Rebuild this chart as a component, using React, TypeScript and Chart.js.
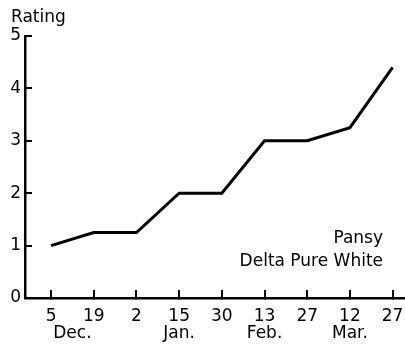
import React, { useEffect, useRef } from "react";
import { Chart, registerables } from "chart.js";

Chart.register(...registerables);

const dayLabels = ["5", "19", "2", "15", "30", "13", "27", "12", "27"];
const ratings = [1, 1.25, 1.25, 2, 2, 3, 3, 3.25, 4.4];
const monthLabels = ["Dec.", "Jan.", "Feb.", "Mar."];
const monthAt = [0.5, 3, 5, 7];
const yTicks = [0, 1, 2, 3, 4, 5];
const axisTitle = "Rating";
const noteLines = ["Pansy", "Delta Pure White"];

const FONT = "'DejaVu Sans', sans-serif";
const X_MIN = -0.61;
const X_MAX = 8.29;

const textPlugin = {
  id: "texts",
  afterDraw(chart: any) {
    const { ctx, chartArea } = chart;
    ctx.save();
    ctx.fillStyle = "#000";
    ctx.font = `17px ${FONT}`;
    ctx.textBaseline = "alphabetic";
    ctx.textAlign = "left";
    ctx.fillText(axisTitle, 11, 22);
    ctx.textAlign = "right";
    ctx.fillText(noteLines[0], chartArea.right - 22, 243);
    ctx.fillText(noteLines[1], chartArea.right - 22, 266);
    ctx.restore();
  },
};

const noPad = (axis: any) => {
  axis.paddingLeft = 0;
  axis.paddingRight = 0;
  axis.paddingTop = 0;
  axis.paddingBottom = 0;
};

export default function App() {
  const ref = useRef<HTMLCanvasElement>(null);

  useEffect(() => {
    if (!ref.current) return;
    const chart = new Chart(ref.current, {
      type: "line",
      data: {
        datasets: [
          {
            data: ratings.map((v, i) => ({ x: i, y: v })),
            borderColor: "#000",
            borderWidth: 3,
            pointRadius: 0,
            tension: 0,
            fill: false,
          },
        ],
      },
      options: {
        animation: false,
        responsive: false,
        devicePixelRatio: 1,
        layout: { padding: { top: 36, left: 0, right: 0, bottom: 0 } },
        plugins: { legend: { display: false }, tooltip: { enabled: false }, title: { display: false } },
        scales: {
          x: {
            type: "linear",
            position: "bottom",
            min: X_MIN,
            max: X_MAX,
            afterBuildTicks: (axis: any) => {
              axis.ticks = dayLabels.map((_, i) => ({ value: i }));
            },
            afterFit: (axis: any) => {
              axis.height = 27;
              noPad(axis);
            },
            grid: {
              drawOnChartArea: false,
              drawTicks: true,
              tickLength: -8,
              color: "#000",
              lineWidth: 2,
            },
            border: { display: true, color: "#000", width: 2.5 },
            ticks: {
              autoSkip: false,
              maxRotation: 0,
              minRotation: 0,
              padding: 18.5,
              color: "#000",
              font: { family: FONT, size: 17, lineHeight: 1 },
              callback: (v: any) => dayLabels[v] ?? "",
            },
          },
          xm: {
            type: "linear",
            position: "bottom",
            min: X_MIN,
            max: X_MAX,
            afterBuildTicks: (axis: any) => {
              axis.ticks = monthAt.map((v) => ({ value: v }));
            },
            afterFit: (axis: any) => {
              axis.height = 20;
              noPad(axis);
            },
            grid: { display: false, drawTicks: false },
            border: { display: false },
            ticks: {
              autoSkip: false,
              maxRotation: 0,
              minRotation: 0,
              padding: 0.5,
              color: "#000",
              font: { family: FONT, size: 17, lineHeight: 1 },
              callback: (_v: any, i: number) => monthLabels[i] ?? "",
            },
          },
          y: {
            type: "linear",
            position: "left",
            min: 0,
            max: 5,
            afterBuildTicks: (axis: any) => {
              axis.ticks = yTicks.map((v) => ({ value: v }));
            },
            afterFit: (axis: any) => {
              axis.width = 25;
              noPad(axis);
            },
            grid: {
              drawOnChartArea: false,
              drawTicks: true,
              tickLength: -7,
              color: "#000",
              lineWidth: 2,
            },
            border: { display: true, color: "#000", width: 2.5 },
            ticks: {
              padding: 11,
              color: "#000",
              font: { family: FONT, size: 17, lineHeight: 1 },
              callback: (v: any) => String(v),
            },
          },
        },
      },
      plugins: [textPlugin],
    } as any);
    return () => chart.destroy();
  }, []);

  return (
    <div style={{ position: "absolute", left: 0, top: 0, width: 405, height: 345, background: "#fff" }}>
      <canvas ref={ref} width={405} height={345} style={{ display: "block", width: 405, height: 345 }} />
    </div>
  );
}
